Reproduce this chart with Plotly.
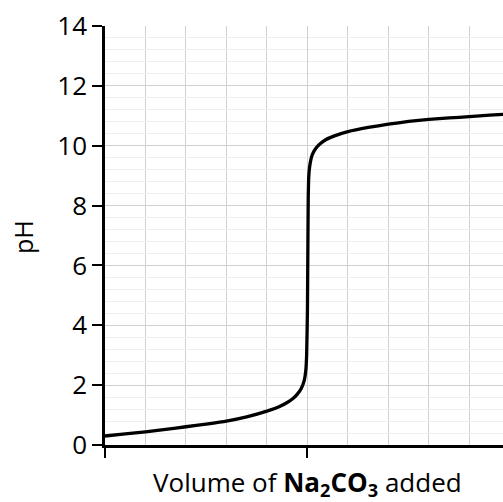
import plotly.graph_objects as go

volume = [0, 0.5, 1, 1.5, 2, 2.5, 3, 3.5, 4, 4.3, 4.5, 4.65, 4.75, 4.85, 4.92, 4.96,
          4.98, 5.0, 5.01, 5.02, 5.03, 5.05, 5.08, 5.12, 5.2, 5.3, 5.45, 5.65, 6,
          6.5, 7, 7.5, 8, 8.5, 9, 9.5, 10]
ph = [0.30, 0.37, 0.44, 0.52, 0.61, 0.70, 0.80, 0.94, 1.13, 1.28, 1.42, 1.56, 1.70,
      1.90, 2.15, 2.5, 3.0, 4.5, 6.5, 8.3, 8.9, 9.25, 9.5, 9.7, 9.9, 10.05, 10.2,
      10.32, 10.47, 10.61, 10.72, 10.81, 10.88, 10.93, 10.97, 11.02, 11.06]

y_ticks = [0, 2, 4, 6, 8, 10, 12, 14]
x_title = "Volume of <b>Na<sub>2</sub>CO<sub>3</sub></b> added"
y_title = "pH"

FONT = "Open Sans"
L, T, B, W, H = 105, 26, 57, 503, 502
plot_w = W - L
plot_h = H - T - B

fig = go.Figure()
fig.add_trace(go.Scatter(x=volume, y=ph, mode="lines",
                         line=dict(color="black", width=3.3, shape="spline", smoothing=0.4),
                         hoverinfo="skip", showlegend=False))

fig.update_layout(
    width=W, height=H,
    margin=dict(l=L, r=0, t=T, b=B, autoexpand=False),
    paper_bgcolor="white", plot_bgcolor="white",
    font=dict(family=FONT, color="black", size=26),
    xaxis=dict(
        range=[0, 9.83], dtick=5, tick0=0,
        showgrid=True, gridcolor="#d0d0d0", gridwidth=1,
        minor=dict(dtick=1, showgrid=True, gridcolor="#d0d0d0", gridwidth=1, ticks=""),
        showline=True, linecolor="black", linewidth=2.5,
        ticks="outside", ticklen=10, tickwidth=2, tickcolor="black",
        showticklabels=False, zeroline=False, automargin=False,
        fixedrange=True,
    ),
    yaxis=dict(
        range=[0, 14], tickvals=y_ticks,
        showgrid=True, gridcolor="#d0d0d0", gridwidth=1,
        minor=dict(dtick=0.4, tick0=0, showgrid=True, gridcolor="#efefef", gridwidth=1, ticks=""),
        showline=True, linecolor="black", linewidth=2.5,
        ticks="outside", ticklen=10, tickwidth=2, tickcolor="black",
        tickfont=dict(size=26, family=FONT),
        zeroline=False, automargin=False,
        fixedrange=True,
    ),
    annotations=[
        dict(text=x_title, xref="paper", yref="paper",
             x=(307.5 - L) / plot_w, y=(H - B - 483) / plot_h,
             xanchor="center", yanchor="middle", showarrow=False,
             font=dict(size=26, family=FONT)),
        dict(text=y_title, xref="paper", yref="paper",
             x=(23 - L) / plot_w, y=(H - B - 237) / plot_h,
             xanchor="center", yanchor="middle", showarrow=False, textangle=-90,
             font=dict(size=25, family=FONT)),
    ],
)

fig.write_html("out.html", config={"displayModeBar": False},
               post_script="document.body.style.margin='0';document.body.style.padding='0';")
